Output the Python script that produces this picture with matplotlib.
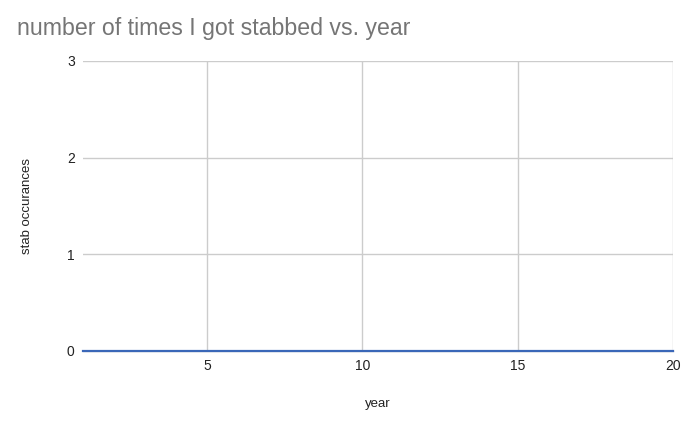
import matplotlib.pyplot as plt

years = list(range(1, 21))
stabs = [0] * 20

plt.rcParams["font.family"] = ["Liberation Sans", "DejaVu Sans"]

fig = plt.figure(figsize=(6.9, 4.22), dpi=100)
ax = fig.add_axes([83 / 690, 1 - 351 / 422, 590 / 690, 290 / 422])

ax.plot(years, stabs, color="#3a67b8", linewidth=1.6, clip_on=False, zorder=3)

ax.set_xlim(1, 20)
ax.set_ylim(0, 3)
ax.set_xticks([5, 10, 15, 20])
ax.set_yticks([0, 1, 2, 3])
ax.grid(True, color="#cccccc", linewidth=1)
ax.set_axisbelow(True)
for side in ["top", "right", "left"]:
    ax.spines[side].set_visible(False)
ax.spines["bottom"].set_color("#333333")
ax.tick_params(length=0, labelsize=10, colors="#222222", pad=6)

ax.set_xlabel("year", fontsize=9.5, color="#222222", labelpad=18)
ax.set_ylabel("stab occurances", fontsize=9.5, color="#222222", labelpad=24)

fig.text(17 / 690, 1 - 28 / 422, "number of times I got stabbed vs. year",
         fontsize=16.7, color="#757575", va="center", ha="left")

fig.savefig("out.png", dpi=100)
